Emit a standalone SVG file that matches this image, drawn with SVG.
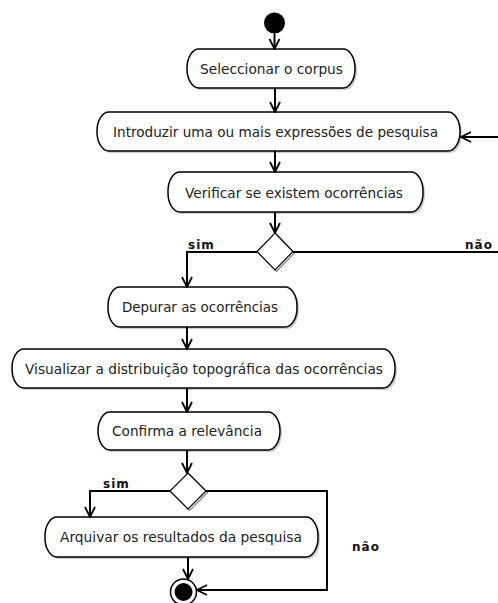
<svg xmlns="http://www.w3.org/2000/svg" width="498" height="603" viewBox="0 0 498 603">
<defs>
<style>
.node rect.sh{fill:#999;opacity:0.5}
.node rect.bx{fill:#fff;stroke:#000;stroke-width:1.5}
.node text{font-family:"DejaVu Sans",sans-serif;font-size:13.5px;fill:#222;text-anchor:middle;dominant-baseline:central}
.lbl{font-family:"DejaVu Sans",sans-serif;font-size:12px;font-weight:bold;fill:#111;letter-spacing:1px}
.con path{fill:none;stroke:#000;stroke-width:2;marker-end:url(#arr)}
.con path.nm{marker-end:none}
.dec polygon{fill:#fff;stroke:#000;stroke-width:1.2}
</style>
<marker id="arr" viewBox="0 0 12 12" refX="11" refY="6" markerWidth="12" markerHeight="12" markerUnits="userSpaceOnUse" orient="auto">
<path d="M1,1 L11,6 L1,11" fill="none" stroke="#000" stroke-width="1.8"/>
</marker>
</defs>
<rect width="498" height="603" fill="#fff"/>

<g id="start"><circle cx="274.5" cy="23" r="10.5" fill="#000"/></g>

<g id="n1" class="node"><rect class="sh" x="189" y="51" width="168" height="39" rx="12" ry="19"/><rect class="bx" x="187" y="49" width="168" height="39" rx="12" ry="19"/><text x="271.5" y="69" textLength="143" lengthAdjust="spacingAndGlyphs">Seleccionar o corpus</text></g>
<g id="n2" class="node"><rect class="sh" x="99" y="114" width="363" height="39" rx="12" ry="19"/><rect class="bx" x="97" y="112" width="363" height="39" rx="12" ry="19"/><text x="275.5" y="132" textLength="325" lengthAdjust="spacingAndGlyphs">Introduzir uma ou mais expressões de pesquisa</text></g>
<g id="n3" class="node"><rect class="sh" x="170" y="174" width="255" height="40" rx="12" ry="19"/><rect class="bx" x="168" y="172" width="255" height="40" rx="12" ry="19"/><text x="294" y="193" textLength="218" lengthAdjust="spacingAndGlyphs">Verificar se existem ocorrências</text></g>
<g id="d1" class="dec"><polygon points="275,233 293,251.5 275,270 257,251.5" fill="#aaa" stroke="none" transform="translate(1.5,1.5)" opacity="0.5"/><polygon points="275,233 293,251.5 275,270 257,251.5"/></g>
<g id="n4" class="node"><rect class="sh" x="110" y="289" width="189" height="40" rx="12" ry="19"/><rect class="bx" x="108" y="287" width="189" height="40" rx="12" ry="19"/><text x="200" y="307" textLength="156" lengthAdjust="spacingAndGlyphs">Depurar as ocorrências</text></g>
<g id="n5" class="node"><rect class="sh" x="14" y="351" width="383" height="39" rx="12" ry="19"/><rect class="bx" x="12" y="349" width="383" height="39" rx="12" ry="19"/><text x="204" y="369" textLength="358" lengthAdjust="spacingAndGlyphs">Visualizar a distribuição topográfica das ocorrências</text></g>
<g id="n6" class="node"><rect class="sh" x="100" y="414" width="182" height="38" rx="12" ry="19"/><rect class="bx" x="98" y="412" width="182" height="38" rx="12" ry="19"/><text x="187" y="431" textLength="150" lengthAdjust="spacingAndGlyphs">Confirma a relevância</text></g>
<g id="d2" class="dec"><polygon points="188,473 206,491 188,509 170,491" fill="#aaa" stroke="none" transform="translate(1.5,1.5)" opacity="0.5"/><polygon points="188,473 206,491 188,509 170,491"/></g>
<g id="n7" class="node"><rect class="sh" x="47" y="519" width="273" height="40" rx="12" ry="19"/><rect class="bx" x="45" y="517" width="273" height="40" rx="12" ry="19"/><text x="181" y="537" textLength="242" lengthAdjust="spacingAndGlyphs">Arquivar os resultados da pesquisa</text></g>
<g id="end"><circle cx="183.5" cy="592" r="13" fill="#fff" stroke="#000" stroke-width="1.5"/><circle cx="183.5" cy="592" r="9" fill="#000"/></g>

<g id="connectors" class="con">
<path d="M274.5,33.5 V49"/>
<path d="M275,88 V112"/>
<path d="M275,151 V172"/>
<path d="M498,137 H461"/>
<path d="M275,212 V233"/>
<path d="M257,252 H187 V287"/>
<path class="nm" d="M293,252 H498"/>
<path d="M187,327 V349"/>
<path d="M187,388 V412"/>
<path d="M187,450 V473"/>
<path d="M170,491 H90 V517"/>
<path d="M206,491 H327 V590 H197"/>
<path d="M188,557 V579"/>
</g>
<text class="lbl" x="188" y="249">sim</text>
<text class="lbl" x="465" y="249">não</text>
<text class="lbl" x="103" y="488">sim</text>
<text class="lbl" x="352" y="551">não</text>
</svg>
